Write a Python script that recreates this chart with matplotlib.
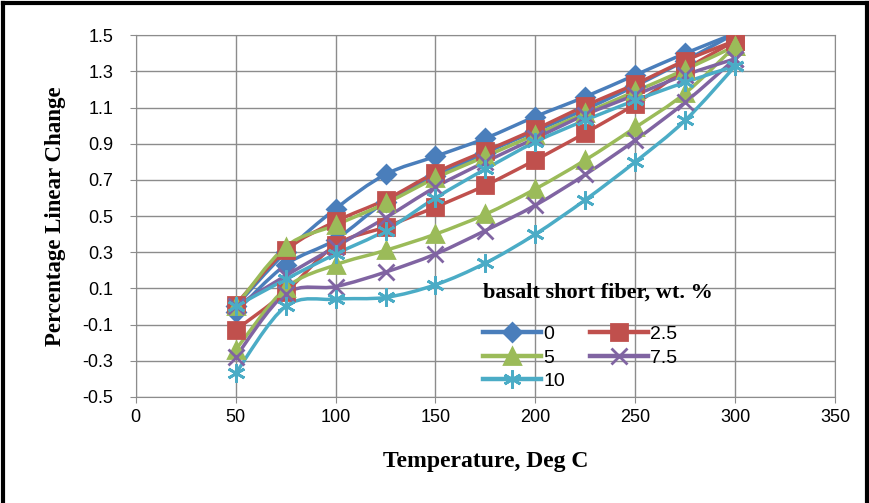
import numpy as np
import matplotlib
matplotlib.use('Agg')
import matplotlib.pyplot as plt
from matplotlib.path import Path
from matplotlib.patches import PathPatch
from matplotlib.lines import Line2D

# Temperatura (Deg C) e variação linear percentual de cada série (dois ramos por série)
temperatura = [50, 75, 100, 125, 150, 175, 200, 225, 250, 275, 300]
series = ['0', '2.5', '5', '7.5', '10']

ramo_sup = {
    '0':   [0.00, 0.30, 0.54, 0.73, 0.83, 0.93, 1.05, 1.16, 1.28, 1.40, 1.51],
    '2.5': [0.01, 0.31, 0.47, 0.59, 0.74, 0.86, 0.98, 1.11, 1.23, 1.36, 1.47],
    '5':   [0.00, 0.33, 0.45, 0.57, 0.71, 0.83, 0.95, 1.07, 1.19, 1.31, 1.44],
    '7.5': [0.00, 0.17, 0.33, 0.49, 0.66, 0.80, 0.93, 1.06, 1.17, 1.28, 1.37],
    '10':  [0.00, 0.15, 0.29, 0.42, 0.60, 0.76, 0.91, 1.03, 1.14, 1.24, 1.33],
}
ramo_inf = {
    '0':   [-0.03, 0.23, 0.37, 0.58, 0.72, 0.85, 0.97, 1.09, 1.22, 1.36, 1.51],
    '2.5': [-0.13, 0.08, 0.34, 0.44, 0.55, 0.67, 0.81, 0.96, 1.12, 1.31, 1.47],
    '5':   [-0.24, 0.10, 0.23, 0.31, 0.40, 0.51, 0.65, 0.81, 0.99, 1.18, 1.44],
    '7.5': [-0.28, 0.07, 0.11, 0.19, 0.29, 0.42, 0.56, 0.73, 0.92, 1.13, 1.37],
    '10':  [-0.37, 0.00, 0.04, 0.05, 0.12, 0.24, 0.40, 0.59, 0.80, 1.03, 1.33],
}

cores = {'0': '#4A7EBB', '2.5': '#C0504D', '5': '#9BBB59', '7.5': '#8064A2', '10': '#4BACC6'}
marcadores = {'0': 'D', '2.5': 's', '5': '^', '7.5': 'x', '10': (6, 2, 0)}
tamanhos = {'0': 9, '2.5': 11, '5': 11, '7.5': 11, '10': 13}


def curva_suave(x, y):
    # linha suavizada (estilo Excel) com curvas de Bezier
    p = np.column_stack([x, y]).astype(float)
    ext = np.vstack([p[0], p, p[-1]])
    verts = [p[0]]
    codes = [Path.MOVETO]
    for i in range(len(p) - 1):
        c1 = ext[i + 1] + (ext[i + 2] - ext[i]) / 6
        c2 = ext[i + 2] - (ext[i + 3] - ext[i + 1]) / 6
        verts += [c1, c2, p[i + 1]]
        codes += [Path.CURVE4] * 3
    return Path(verts, codes)


fig = plt.figure(figsize=(8.7, 5.03), dpi=100)
ax = fig.add_axes([0.156, 0.211, 0.804, 0.719])

for s in series:
    for ramo in (ramo_sup, ramo_inf):
        patch = PathPatch(curva_suave(temperatura, ramo[s]), facecolor='none',
                          edgecolor=cores[s], lw=2.5, transform=ax.transData, zorder=3)
        ax.add_patch(patch)
        ax.plot(temperatura, ramo[s], linestyle='none', marker=marcadores[s],
                color=cores[s], markersize=tamanhos[s], markeredgewidth=2, zorder=4)

ax.set_xlim(0, 350)
ax.set_ylim(-0.5, 1.5)
ax.set_xticks(np.arange(0, 351, 50))
ax.set_yticks(np.arange(-0.5, 1.51, 0.2))
ax.set_yticklabels(['%.1f' % v for v in np.arange(-0.5, 1.51, 0.2)])
ax.grid(True, color='#8c8c8c', lw=1)
ax.set_axisbelow(True)
for sp in ax.spines.values():
    sp.set_color('#8c8c8c')
ax.tick_params(colors='#8c8c8c', labelcolor='black', labelsize=13, length=4)
ax.tick_params(axis='y', pad=12)
ax.tick_params(axis='x', pad=5)
for lbl in ax.get_xticklabels() + ax.get_yticklabels():
    lbl.set_family('Liberation Sans')

ax.set_xlabel('Temperature, Deg C', family='Liberation Serif', fontweight='bold',
              fontsize=17, labelpad=18)
ax.set_ylabel('Percentage Linear Change', family='Liberation Serif', fontweight='bold',
              fontsize=16.5, labelpad=12)

# título da legenda como texto separado
ax.text(0.496, 0.287, 'basalt short fiber, wt. %', transform=ax.transAxes,
        family='Liberation Serif', fontweight='bold', fontsize=16, va='center', ha='left', zorder=5)

# legenda em duas colunas: 0, 2.5 / 5, 7.5 / 10
ordem = ['0', '5', '10', '2.5', '7.5']
handles = [Line2D([], [], color=cores[s], lw=3.2, marker=marcadores[s],
                  markersize=tamanhos[s], markeredgewidth=2) for s in ordem]
leg = ax.legend(handles, ordem, ncol=2, loc='upper left', bbox_to_anchor=(0.474, 0.24),
                frameon=False, handlelength=3, borderpad=0.3,
                handletextpad=0.1, columnspacing=1.3, labelspacing=0.3,
                prop={'family': 'Liberation Sans', 'size': 14})

# moldura preta em volta da figura
fig.add_artist(Line2D([0.004, 0.996], [0.995, 0.995], color='black', lw=3, transform=fig.transFigure))
fig.add_artist(Line2D([0.004, 0.004], [0.0, 0.995], color='black', lw=3, transform=fig.transFigure))
fig.add_artist(Line2D([0.996, 0.996], [0.0, 0.995], color='black', lw=3, transform=fig.transFigure))

plt.savefig('out.png', dpi=100)
